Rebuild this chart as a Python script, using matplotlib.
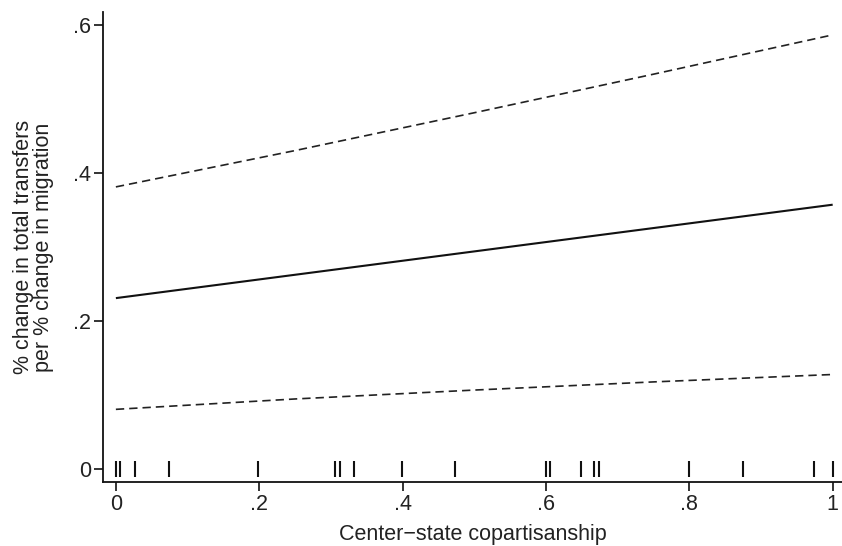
import matplotlib.pyplot as plt
import numpy as np

plt.rcParams['font.family'] = ['Liberation Sans', 'DejaVu Sans']

# values
x_grid = [0, 0.25, 0.5, 0.75, 1.0]
effect = [0.231, 0.2625, 0.294, 0.3255, 0.357]
upper = [0.381, 0.430, 0.481, 0.533, 0.586]
lower = [0.081, 0.095, 0.107, 0.118, 0.128]

rug_x = [0, 0.0056, 0.026, 0.074, 0.198, 0.306, 0.313, 0.332, 0.399, 0.473,
         0.600, 0.606, 0.649, 0.667, 0.674, 0.800, 0.875, 0.974, 1.0]

xticks = [0, 0.2, 0.4, 0.6, 0.8, 1.0]
xtick_labels = ['0', '.2', '.4', '.6', '.8', '1']
yticks = [0, 0.2, 0.4, 0.6]
ytick_labels = ['0', '.2', '.4', '.6']

txt = '#222222'
fs = 15.5

fig = plt.figure(figsize=(8.42, 5.46), dpi=100)
ax = fig.add_axes([0.1223, 0.1172, 0.8777, 0.861])

ax.plot(x_grid, effect, color='#111111', lw=1.5, solid_capstyle='butt')
ax.plot(x_grid, upper, color='#222222', lw=1.2, dashes=(5, 3))
ax.plot(x_grid, lower, color='#222222', lw=1.2, dashes=(5, 3))
ax.plot(rug_x, np.zeros(len(rug_x)), ls='none', marker='|', ms=12,
        mew=1.5, color='#111111')

ax.set_xlim(-0.018, 1.013)
ax.set_ylim(-0.017, 0.617)
ax.set_xticks(xticks, xtick_labels)
ax.set_yticks(yticks, ytick_labels)
ax.tick_params(direction='out', length=6.3, width=1.2, labelsize=fs,
               colors='#111111', labelcolor=txt, pad=2.5)

for s in ['top', 'right']:
    ax.spines[s].set_visible(False)
for s in ['left', 'bottom']:
    ax.spines[s].set_linewidth(1.3)
    ax.spines[s].set_color('#111111')

ax.set_xlabel('Center\u2212state copartisanship', fontsize=fs, color=txt,
              va='bottom')
ax.set_ylabel('% change in total transfers\nper % change in migration',
              fontsize=fs, color=txt, linespacing=0.95)
ax.xaxis.set_label_coords(0.5, -0.134)
ax.yaxis.set_label_coords(-0.066, 0.5)

fig.savefig('out.png', dpi=100)
